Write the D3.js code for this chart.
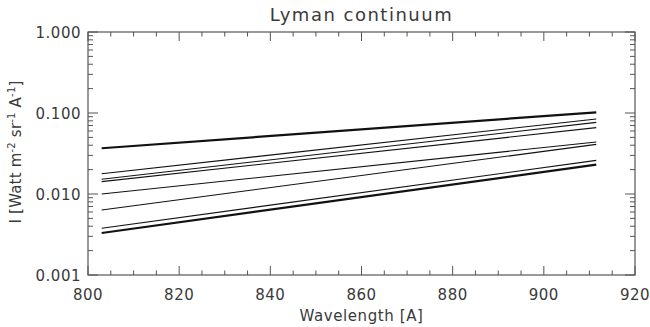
<!DOCTYPE html>
<html>
<head>
<meta charset="utf-8">
<script src="https://cdn.jsdelivr.net/npm/d3@7"></script>
<style>
  body { margin: 0; background: #fff; }
  text { font-family: "DejaVu Sans", sans-serif; fill: #3a3a3a; }
</style>
</head>
<body>
<script>
// wavelength range drawn for every curve
var waveStart = 803, waveEnd = 911.5;

// intensity at start and end of each curve
var startValues = [0.0367, 0.0178, 0.0152, 0.0142, 0.0100, 0.00634, 0.00377, 0.00330];
var endValues   = [0.102,  0.0843, 0.0767, 0.0659, 0.0438, 0.0410,  0.0260,  0.0230];
var thickLines  = [0, 7];

var xTicks = [800, 820, 840, 860, 880, 900, 920];
var yTicks = [0.001, 0.01, 0.1, 1];

var width = 650, height = 327;
var margin = {top: 32, right: 15, bottom: 52, left: 88};

var svg = d3.select("body").append("svg")
  .attr("width", width)
  .attr("height", height);

var x = d3.scaleLinear().domain([800, 920]).range([margin.left, width - margin.right]);
var y = d3.scaleLog().domain([0.001, 1]).range([height - margin.bottom, margin.top]);

var axisColor = "#555";

// frame
svg.append("rect")
  .attr("x", x(800)).attr("y", y(1))
  .attr("width", x(920) - x(800)).attr("height", y(0.001) - y(1))
  .attr("fill", "none").attr("stroke", axisColor).attr("stroke-width", 1.2);

// x ticks, major every 20, minor every 5
var xMinor = d3.range(800, 921, 5);
xMinor.forEach(function (v) {
  var len = (v % 20 === 0) ? 9 : 4.5;
  svg.append("line").attr("x1", x(v)).attr("x2", x(v))
    .attr("y1", y(0.001)).attr("y2", y(0.001) - len)
    .attr("stroke", axisColor);
  svg.append("line").attr("x1", x(v)).attr("x2", x(v))
    .attr("y1", y(1)).attr("y2", y(1) + len)
    .attr("stroke", axisColor);
});

// y ticks, decades plus 2..9
var yMinor = [];
[0.001, 0.01, 0.1].forEach(function (d) {
  for (var k = 2; k <= 9; k++) yMinor.push(d * k);
});
yMinor.forEach(function (v) {
  svg.append("line").attr("x1", x(800)).attr("x2", x(800) + 5)
    .attr("y1", y(v)).attr("y2", y(v)).attr("stroke", axisColor);
  svg.append("line").attr("x1", x(920)).attr("x2", x(920) - 5)
    .attr("y1", y(v)).attr("y2", y(v)).attr("stroke", axisColor);
});
yTicks.forEach(function (v) {
  svg.append("line").attr("x1", x(800)).attr("x2", x(800) + 10)
    .attr("y1", y(v)).attr("y2", y(v)).attr("stroke", axisColor);
  svg.append("line").attr("x1", x(920)).attr("x2", x(920) - 10)
    .attr("y1", y(v)).attr("y2", y(v)).attr("stroke", axisColor);
});

// tick labels
svg.selectAll(".xl").data(xTicks).enter().append("text")
  .attr("x", function (d) { return x(d); })
  .attr("y", 300)
  .attr("text-anchor", "middle")
  .style("font-size", "15px")
  .style("letter-spacing", "0.5px")
  .text(function (d) { return d; });

svg.selectAll(".yl").data(yTicks).enter().append("text")
  .attr("x", 81)
  .attr("y", function (d) { return y(d) + 5.5; })
  .attr("text-anchor", "end")
  .style("font-size", "15px")
  .style("letter-spacing", "0.5px")
  .text(function (d) { return d3.format(".3f")(d); });

// curves
var line = d3.line()
  .x(function (d) { return x(d[0]); })
  .y(function (d) { return y(d[1]); });

svg.selectAll(".curve").data(startValues).enter().append("path")
  .attr("d", function (d, i) { return line([[waveStart, d], [waveEnd, endValues[i]]]); })
  .attr("fill", "none")
  .attr("stroke", "#111")
  .attr("stroke-width", function (d, i) { return thickLines.indexOf(i) >= 0 ? 2.2 : 1.1; });

// title and axis titles
svg.append("text")
  .attr("x", x(860)).attr("y", 21)
  .attr("text-anchor", "middle")
  .style("font-size", "18px")
  .style("letter-spacing", "1.5px")
  .text("Lyman continuum");

svg.append("text")
  .attr("x", x(860)).attr("y", 321)
  .attr("text-anchor", "middle")
  .style("font-size", "15px")
  .style("letter-spacing", "0.6px")
  .text("Wavelength [A]");

var yl = svg.append("text")
  .attr("transform", "translate(21,152) rotate(-90)")
  .attr("text-anchor", "middle")
  .style("font-size", "15px")
  .style("letter-spacing", "0.2px");
yl.append("tspan").text("I [Watt m");
yl.append("tspan").attr("dy", -6).style("font-size", "10px").text("-2");
yl.append("tspan").attr("dy", 6).text(" sr");
yl.append("tspan").attr("dy", -6).style("font-size", "10px").text("-1");
yl.append("tspan").attr("dy", 6).text(" A");
yl.append("tspan").attr("dy", -6).style("font-size", "10px").text("-1");
yl.append("tspan").attr("dy", 6).text("]");
</script>
</body>
</html>
